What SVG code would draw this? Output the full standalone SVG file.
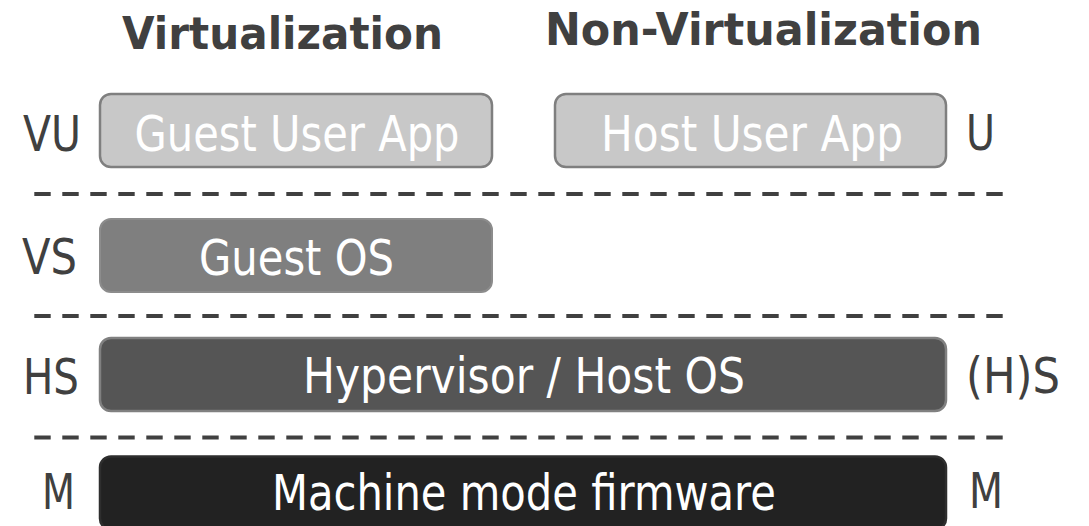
<svg xmlns="http://www.w3.org/2000/svg" width="1089" height="526" viewBox="0 0 1089 526">
<style>
text { font-family: "DejaVu Sans", "Liberation Sans", sans-serif; }
.title { font-weight: bold; font-size: 44px; fill: #404040; }
.lbl { font-size: 50px; fill: #404040; }
.btxt { font-size: 50px; fill: #ffffff; text-anchor: middle; }
.sep { stroke: #404040; stroke-width: 4; stroke-dasharray: 16.4 11.6; fill: none; }
.user { fill: #c8c8c8; stroke: #7f7f7f; stroke-width: 2.5; }
.gos { fill: #7f7f7f; stroke: #8c8c8c; stroke-width: 2; }
.hyp { fill: #555555; stroke: #808080; stroke-width: 2.5; }
.mach { fill: #222222; stroke: #2e2e2e; stroke-width: 2.5; }
</style>
<g id="titles">
<text class="title" x="122" y="49" textLength="321" lengthAdjust="spacingAndGlyphs">Virtualization</text>
<text class="title" x="545" y="45" textLength="437" lengthAdjust="spacingAndGlyphs">Non-Virtualization</text>
</g>
<g id="separators">
<line class="sep" x1="34.3" y1="194" x2="1003" y2="194"/>
<line class="sep" x1="34.3" y1="316" x2="1003" y2="316"/>
<line class="sep" x1="34.3" y1="437.5" x2="1003" y2="437.5"/>
</g>
<g id="labels">
<text class="lbl" x="23" y="151" textLength="58" lengthAdjust="spacingAndGlyphs">VU</text>
<text class="lbl" x="966" y="150" textLength="29" lengthAdjust="spacingAndGlyphs">U</text>
<text class="lbl" x="22" y="274" textLength="55" lengthAdjust="spacingAndGlyphs">VS</text>
<text class="lbl" x="23" y="394" textLength="56" lengthAdjust="spacingAndGlyphs">HS</text>
<text class="lbl" x="966" y="393" textLength="94" lengthAdjust="spacingAndGlyphs">(H)S</text>
<text class="lbl" x="42" y="509" textLength="33" lengthAdjust="spacingAndGlyphs">M</text>
<text class="lbl" x="969" y="508" textLength="34" lengthAdjust="spacingAndGlyphs">M</text>
</g>
<g id="guest-user-app">
<rect class="user" x="100" y="94" width="392" height="73" rx="11"/>
<text class="btxt" x="297" y="151" textLength="325" lengthAdjust="spacingAndGlyphs">Guest User App</text>
</g>
<g id="host-user-app">
<rect class="user" x="555" y="94" width="391" height="73" rx="11"/>
<text class="btxt" x="752" y="151" textLength="302" lengthAdjust="spacingAndGlyphs">Host User App</text>
</g>
<g id="guest-os">
<rect class="gos" x="100" y="219" width="392" height="73" rx="11"/>
<text class="btxt" x="296.5" y="275" textLength="195" lengthAdjust="spacingAndGlyphs">Guest OS</text>
</g>
<g id="hypervisor">
<rect class="hyp" x="100" y="338" width="846" height="73" rx="11"/>
<text class="btxt" x="524" y="393" textLength="442" lengthAdjust="spacingAndGlyphs">Hypervisor / Host OS</text>
</g>
<g id="machine-firmware">
<rect class="mach" x="100" y="456.5" width="846" height="73" rx="11"/>
<text class="btxt" x="524" y="510" textLength="504" lengthAdjust="spacingAndGlyphs">Machine mode firmware</text>
</g>
</svg>
